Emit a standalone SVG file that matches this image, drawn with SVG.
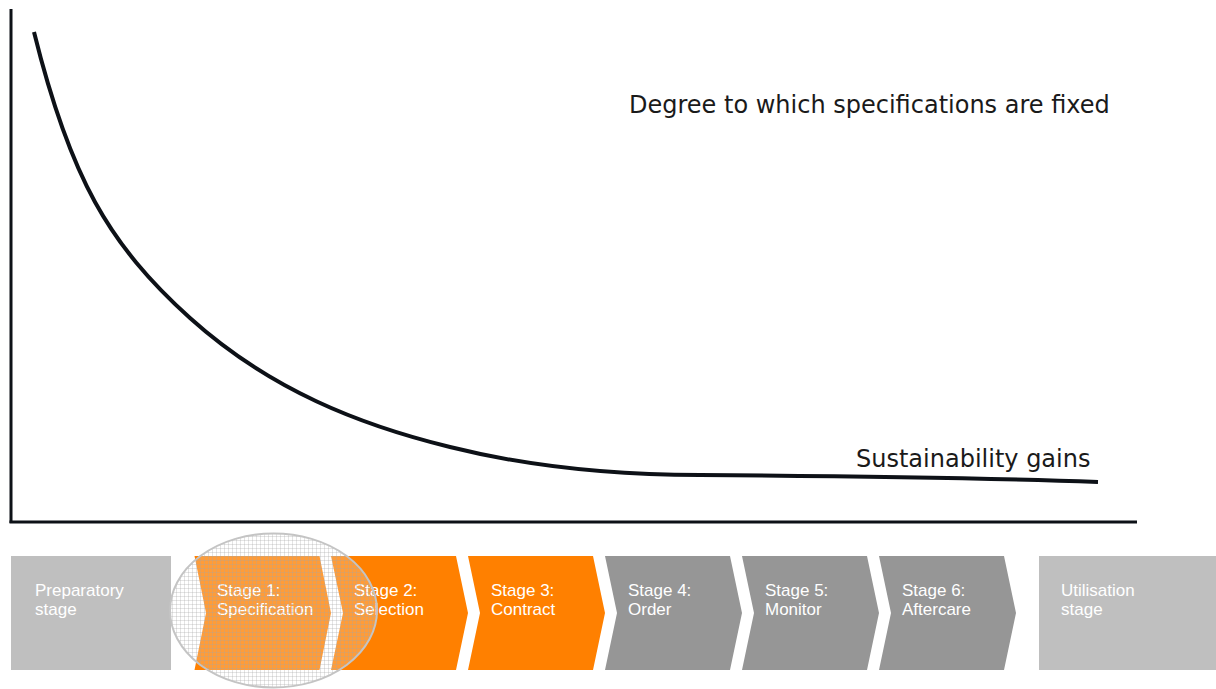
<svg xmlns="http://www.w3.org/2000/svg" width="1216" height="689" viewBox="0 0 1216 689">
<style>
.axis{stroke:#0d1117;stroke-width:3;fill:none}
.curve{stroke:#0d1117;stroke-width:4;fill:none;stroke-linecap:butt}
.lbl{font-family:"DejaVu Sans",Verdana,sans-serif;font-size:24px;fill:#1a1a1a}
.st{font-family:"Liberation Sans",Arial,sans-serif;font-size:17px;fill:#ffffff}
.box{fill:#bfbfbf}
.orange{fill:#ff8000}
.grey{fill:#969696}
</style>
<defs>
<pattern id="grid" width="4" height="4" patternUnits="userSpaceOnUse">
<rect width="4" height="4" fill="#ffffff" fill-opacity="0.22"/>
<path d="M0,0.5H4M0.5,0V4" stroke="#a8a8a8" stroke-opacity="0.3" stroke-width="1"/>
</pattern>
</defs>
<rect width="1216" height="689" fill="#ffffff"/>
<g id="axes">
<line class="axis" x1="11" y1="9" x2="11" y2="523"/>
<line class="axis" x1="9.5" y1="522" x2="1137" y2="522"/>
</g>
<g id="curve">
<path class="curve" d="M34,32 C70,177.5 108.6,244.3 190,318 C270,390 360,425 450,447 C530,467 620,475 700,475 C830,476 1000,478.5 1098,482"/>
</g>
<text class="lbl" x="629" y="113">Degree to which specifications are fixed</text>
<text class="lbl" x="856" y="467">Sustainability gains</text>
<g id="preparatory">
<rect class="box" x="11" y="556" width="160" height="114"/>
<text class="st" x="35" y="596">Preparatory</text>
<text class="st" x="35" y="615">stage</text>
</g>
<g id="stage1">
<polygon class="orange" points="194.5,556 319.5,556 331,613 319.5,670 194.5,670 206,613"/>
<text class="st" x="217" y="596">Stage 1:</text>
<text class="st" x="217" y="615">Specification</text>
</g>
<g id="stage2">
<polygon class="orange" points="331,556 456,556 468,613 456,670 331,670 343,613"/>
<text class="st" x="354" y="596">Stage 2:</text>
<text class="st" x="354" y="615">Selection</text>
</g>
<g id="stage3">
<polygon class="orange" points="468,556 593,556 605,613 593,670 468,670 480,613"/>
<text class="st" x="491" y="596">Stage 3:</text>
<text class="st" x="491" y="615">Contract</text>
</g>
<g id="stage4">
<polygon class="grey" points="605,556 730,556 742,613 730,670 605,670 617,613"/>
<text class="st" x="628" y="596">Stage 4:</text>
<text class="st" x="628" y="615">Order</text>
</g>
<g id="stage5">
<polygon class="grey" points="742,556 867,556 879,613 867,670 742,670 754,613"/>
<text class="st" x="765" y="596">Stage 5:</text>
<text class="st" x="765" y="615">Monitor</text>
</g>
<g id="stage6">
<polygon class="grey" points="879,556 1004,556 1016,613 1004,670 879,670 891,613"/>
<text class="st" x="902" y="596">Stage 6:</text>
<text class="st" x="902" y="615">Aftercare</text>
</g>
<g id="utilisation">
<rect class="box" x="1039" y="556" width="177" height="114"/>
<text class="st" x="1061" y="596">Utilisation</text>
<text class="st" x="1061" y="615">stage</text>
</g>
<g id="highlight">
<ellipse cx="273.5" cy="610.5" rx="103.5" ry="77" fill="url(#grid)" stroke="#c4c4c4" stroke-width="2"/>
</g>
</svg>
